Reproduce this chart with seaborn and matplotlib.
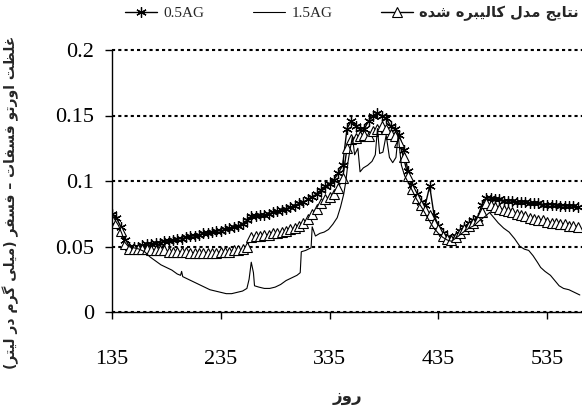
import matplotlib
matplotlib.use("Agg")
import matplotlib.pyplot as plt
import seaborn as sns

sns.set_style("ticks")
plt.rcParams["font.family"] = ["Liberation Serif", "DejaVu Sans"]

# daily concentration readings (mg/l)
days = [135, 139, 143, 147, 151, 155, 159, 163, 167, 171, 175, 179, 183, 187,
        191, 195, 199, 203, 207, 211, 215, 219, 223, 227, 231, 235, 239, 243,
        247, 251, 255, 259, 263, 267, 271, 275, 279, 283, 287, 291, 295, 299,
        303, 307, 311, 315, 319, 323, 327, 331, 335, 339, 343, 347, 351, 355,
        359, 363, 367, 371, 375, 379, 383, 387, 391, 395, 399, 403, 407, 411,
        415, 419, 423, 427, 431, 435, 439, 443, 447, 451, 455, 459, 463, 467,
        471, 475, 479, 483, 487, 491, 495, 499, 503, 507, 511, 515, 519, 523,
        527, 531, 535, 539, 543, 547, 551, 555, 559, 563]
ag05 = [0.075, 0.072, 0.065, 0.055, 0.050, 0.050, 0.050, 0.051, 0.052, 0.052,
        0.053, 0.053, 0.054, 0.054, 0.055, 0.056, 0.056, 0.057, 0.058, 0.058,
        0.059, 0.060, 0.060, 0.061, 0.062, 0.062, 0.063, 0.064, 0.065, 0.066,
        0.067, 0.070, 0.073, 0.073, 0.074, 0.074, 0.075, 0.076, 0.077, 0.078,
        0.079, 0.080, 0.081, 0.083, 0.084, 0.086, 0.088, 0.090, 0.093, 0.096,
        0.098, 0.101, 0.106, 0.112, 0.140, 0.146, 0.142, 0.140, 0.140, 0.146,
        0.150, 0.152, 0.150, 0.148, 0.142, 0.140, 0.135, 0.124, 0.108, 0.097,
        0.090, 0.084, 0.082, 0.096, 0.074, 0.066, 0.060, 0.057, 0.056, 0.058,
        0.062, 0.065, 0.068, 0.070, 0.072, 0.082, 0.087, 0.087, 0.086, 0.086,
        0.085, 0.085, 0.085, 0.084, 0.084, 0.084, 0.083, 0.083, 0.083, 0.082,
        0.082, 0.082, 0.082, 0.081, 0.081, 0.081, 0.081, 0.080]
calib = [0.072, 0.068, 0.062, 0.052, 0.048, 0.048, 0.048, 0.048, 0.048, 0.047,
         0.047, 0.047, 0.047, 0.046, 0.046, 0.046, 0.046, 0.046, 0.045, 0.045,
         0.045, 0.045, 0.045, 0.045, 0.045, 0.046, 0.046, 0.046, 0.047, 0.047,
         0.048, 0.050, 0.057, 0.058, 0.058, 0.059, 0.059, 0.060, 0.060, 0.061,
         0.062, 0.063, 0.064, 0.066, 0.068, 0.071, 0.075, 0.079, 0.083, 0.086,
         0.088, 0.090, 0.095, 0.102, 0.125, 0.132, 0.133, 0.134, 0.135, 0.134,
         0.138, 0.140, 0.142, 0.140, 0.136, 0.134, 0.130, 0.118, 0.104, 0.094,
         0.087, 0.082, 0.078, 0.074, 0.068, 0.063, 0.058, 0.056, 0.055, 0.057,
         0.060, 0.063, 0.066, 0.068, 0.070, 0.076, 0.083, 0.082, 0.080, 0.079,
         0.078, 0.077, 0.076, 0.075, 0.074, 0.073, 0.072, 0.071, 0.070, 0.070,
         0.069, 0.068, 0.068, 0.067, 0.067, 0.066, 0.066, 0.065]

days_15 = [135, 138, 141, 144, 147, 150, 155, 160, 165, 170, 175, 180, 185, 190,
           195, 198, 199, 200, 205, 210, 215, 220, 225, 230, 235, 240, 245, 250,
           255, 259, 261, 263, 265, 266, 270, 275, 280, 285, 290, 295, 300, 305,
           308, 309, 313, 318, 319, 322, 326, 330, 334, 338, 342, 345, 348, 350,
           352, 354, 356, 358, 361, 363, 366, 370, 374, 377, 379, 381, 384, 387,
           390, 393, 396, 398, 401, 404, 409, 415, 421, 425, 430, 435, 439, 443,
           447, 452, 458, 463, 468, 473, 478, 482, 486, 490, 495, 500, 505, 510,
           514, 518, 522, 526, 529, 533, 538, 542, 546, 550, 555, 560, 565]
ag15 = [0.074, 0.070, 0.066, 0.060, 0.053, 0.050, 0.049, 0.048, 0.046, 0.042,
        0.039, 0.036, 0.034, 0.032, 0.029, 0.028, 0.031, 0.027, 0.025, 0.023,
        0.021, 0.019, 0.017, 0.016, 0.015, 0.014, 0.014, 0.015, 0.016, 0.018,
        0.025, 0.038, 0.030, 0.020, 0.019, 0.018, 0.018, 0.019, 0.021, 0.024,
        0.026, 0.028, 0.030, 0.046, 0.047, 0.049, 0.065, 0.058, 0.060, 0.061,
        0.063, 0.067, 0.072, 0.080, 0.090, 0.100, 0.115, 0.125, 0.134, 0.120,
        0.125, 0.107, 0.110, 0.112, 0.115, 0.120, 0.140, 0.121, 0.122, 0.135,
        0.118, 0.114, 0.118, 0.135, 0.112, 0.104, 0.096, 0.086, 0.078, 0.072,
        0.065, 0.060, 0.057, 0.055, 0.054, 0.057, 0.061, 0.064, 0.066, 0.070,
        0.073, 0.076, 0.072, 0.068, 0.064, 0.061, 0.056, 0.050, 0.048, 0.047,
        0.043, 0.038, 0.034, 0.031, 0.028, 0.024, 0.020, 0.018, 0.017, 0.015,
        0.013]

x_ticks = [135, 235, 335, 435, 535]
y_ticks = [0, 0.05, 0.1, 0.15, 0.2]
y_tick_labels = ["0", "0.05", "0.1", "0.15", "0.2"]

# matplotlib has no arabic shaping, so pick presentation forms by hand
FORMS = {
    "ا": ("\uFE8D", "\uFE8E", None, None),
    "ب": ("\uFE8F", "\uFE90", "\uFE91", "\uFE92"),
    "ت": ("\uFE95", "\uFE96", "\uFE97", "\uFE98"),
    "ج": ("\uFE9D", "\uFE9E", "\uFE9F", "\uFEA0"),
    "د": ("\uFEA9", "\uFEAA", None, None),
    "ر": ("\uFEAD", "\uFEAE", None, None),
    "ز": ("\uFEAF", "\uFEB0", None, None),
    "س": ("\uFEB1", "\uFEB2", "\uFEB3", "\uFEB4"),
    "ش": ("\uFEB5", "\uFEB6", "\uFEB7", "\uFEB8"),
    "ظ": ("\uFEC5", "\uFEC6", "\uFEC7", "\uFEC8"),
    "غ": ("\uFECD", "\uFECE", "\uFECF", "\uFED0"),
    "ف": ("\uFED1", "\uFED2", "\uFED3", "\uFED4"),
    "ل": ("\uFEDD", "\uFEDE", "\uFEDF", "\uFEE0"),
    "م": ("\uFEE1", "\uFEE2", "\uFEE3", "\uFEE4"),
    "ن": ("\uFEE5", "\uFEE6", "\uFEE7", "\uFEE8"),
    "ه": ("\uFEE9", "\uFEEA", "\uFEEB", "\uFEEC"),
    "و": ("\uFEED", "\uFEEE", None, None),
    "ی": ("\uFBFC", "\uFBFD", "\uFBFE", "\uFBFF"),
    "ک": ("\uFB8E", "\uFB8F", "\uFB90", "\uFB91"),
    "گ": ("\uFB92", "\uFB93", "\uFB94", "\uFB95"),
}


def fa(text):
    out = []
    for i, ch in enumerate(text):
        if ch not in FORMS:
            out.append({"(": ")", ")": "("}.get(ch, ch))
            continue
        prev = text[i - 1] if i > 0 else ""
        nxt = text[i + 1] if i + 1 < len(text) else ""
        iso, fin, ini, med = FORMS[ch]
        join_prev = prev in FORMS and FORMS[prev][2] is not None
        join_next = ini is not None and nxt in FORMS
        if join_prev and join_next:
            out.append(med)
        elif join_prev:
            out.append(fin)
        elif join_next:
            out.append(ini)
        else:
            out.append(iso)
    return "".join(reversed(out))


fig, ax = plt.subplots(figsize=(5.82, 4.07), dpi=100)
fig.subplots_adjust(left=112 / 582, right=1.0, bottom=95 / 407, top=357 / 407)

sns.lineplot(x=days, y=ag05, ax=ax, color="black", lw=1.0, marker=(6, 2, 0),
             markersize=7.5, mec="black", mew=0.9, sort=False, estimator=None,
             label="0.5AG")
sns.lineplot(x=days, y=calib, ax=ax, color="black", lw=1.0, marker="^",
             markersize=6.5, mfc="white", mec="black", mew=0.8, sort=False,
             estimator=None, label=fa("نتایج مدل کالیبره شده"))
sns.lineplot(x=days_15, y=ag15, ax=ax, color="black", lw=0.8, sort=False,
             estimator=None, label="1.5AG")

ax.set_xlim(135, 567)
ax.set_ylim(0, 0.2)
ax.set_xticks(x_ticks)
ax.set_yticks(y_ticks)
ax.set_yticklabels(y_tick_labels)
ax.tick_params(axis="both", direction="out", length=5, width=1, colors="black",
               labelsize=16)
ax.tick_params(axis="x", pad=22)
ax.tick_params(axis="y", pad=8)
ax.yaxis.grid(True, color="black", linestyle=(0, (1.5, 1.5)), lw=1.5)
for gl in ax.get_ygridlines():
    gl.set_clip_on(False)
sns.despine(ax=ax)
for side in ("left", "bottom"):
    ax.spines[side].set_color("black")
    ax.spines[side].set_linewidth(1)

ax.set_xlabel(fa("روز"), family="DejaVu Sans", fontweight="bold", fontsize=12,
              labelpad=13)
ax.set_ylabel(fa("غلظت اورتو فسفات – فسفر (میلی گرم در لیتر)"),
              family="DejaVu Sans", fontweight="bold", fontsize=10)
ax.yaxis.set_label_coords(-0.198, 0.42)

handles, labels = ax.get_legend_handles_labels()
ax.get_legend().remove()
order = [0, 2, 1]
leg = fig.legend([handles[i] for i in order], [labels[i] for i in order],
                 loc="center left", bbox_to_anchor=(125 / 582, 1 - 13 / 407),
                 ncol=3, frameon=False, handlelength=2.1, handletextpad=0.4,
                 columnspacing=3.2, borderaxespad=0, borderpad=0, fontsize=11)
leg.get_texts()[2].set_family("DejaVu Sans")
leg.get_texts()[2].set_fontweight("bold")
leg.get_texts()[2].set_fontsize(10.5)

fig.savefig("out.png", dpi=100)
